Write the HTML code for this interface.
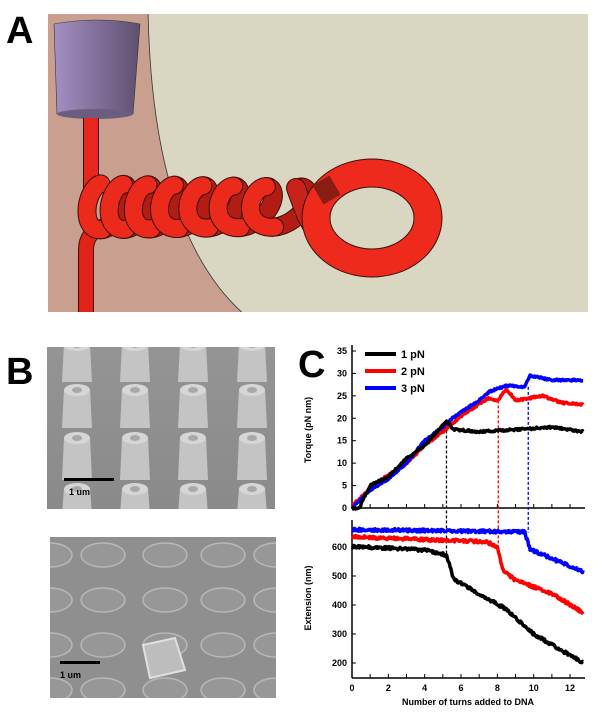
<!DOCTYPE html>
<html><head><meta charset="utf-8"><style>
html,body{margin:0;padding:0;background:#fff;width:600px;height:723px;overflow:hidden}
svg{display:block}
text{font-family:"Liberation Sans",Arial,sans-serif}
</style></head><body>
<svg id="s" width="600" height="723" xmlns="http://www.w3.org/2000/svg">
<defs>
<linearGradient id="cup" x1="0" x2="1"><stop offset="0" stop-color="#a48fc4"/><stop offset="1" stop-color="#5e5070"/></linearGradient>
<linearGradient id="sem" x1="0" y1="0" x2="0" y2="1"><stop offset="0" stop-color="#949494"/><stop offset="1" stop-color="#8a8a8a"/></linearGradient>
<clipPath id="c1"><rect x="47" y="347" width="228" height="162"/></clipPath>
<clipPath id="c2"><rect x="50" y="537" width="226" height="161"/></clipPath>
<clipPath id="cA"><rect x="48" y="14" width="540" height="298"/></clipPath>
</defs>
<g clip-path="url(#cA)">
<rect x="48" y="14" width="540" height="298" fill="#c9a08f"/>
<path d="M148,10 Q152,235 246,316 L592,316 L592,10 Z" fill="#d9d6c2" stroke="#333" stroke-width="0.8"/>
<path d="M54,24 Q97,16 140,24 L133,114 Q95,121 57,114 Z" fill="url(#cup)" stroke="#333" stroke-width="0.6"/>
<ellipse cx="95" cy="114" rx="38" ry="5" fill="#6b5c80"/>
<path d="M91,118 L91,188" stroke="#3a0f08" stroke-width="16" fill="none"/>
<path d="M91,118 L91,188" stroke="#e8261c" stroke-width="14" fill="none"/>
<path d="M86,316 L86,250 Q86,232 104,226" stroke="#3a0f08" stroke-width="16" fill="none"/>
<path d="M86,316 L86,250 Q86,232 104,226" stroke="#e02418" stroke-width="14" fill="none"/>
<g id="coil"></g>
<ellipse cx="372" cy="218" rx="56" ry="45" fill="none" stroke="#3a0f08" stroke-width="29"/>
<ellipse cx="372" cy="218" rx="56" ry="45" fill="none" stroke="#ee2a1c" stroke-width="27"/>
<path d="M318,195 L335,185" stroke="#8a1d12" stroke-width="22"/>
</g>
<text x="6" y="43" font-size="38" font-weight="bold">A</text>

<g clip-path="url(#c1)">
<rect x="47" y="347" width="228" height="162" fill="url(#sem)"/>
<g id="pillars"></g>
</g>
<rect x="64" y="478" width="50" height="3" fill="#000"/>
<text x="69" y="495" font-size="9" font-weight="bold">1 um</text>
<g clip-path="url(#c2)">
<rect x="50" y="537" width="226" height="161" fill="#8f8f8f"/>
<g id="bumps"></g>
<path d="M143,645 L175,638 L185,670 L150,678 Z" fill="#bdbdbd" stroke="#e0e0e0" stroke-width="2"/>
</g>
<rect x="60" y="661" width="40" height="3" fill="#000"/>
<text x="60" y="678" font-size="9" font-weight="bold">1 um</text>
<text x="6" y="384" font-size="38" font-weight="bold">B</text>

<text x="298" y="377" font-size="38" font-weight="bold">C</text>
<g id="plot" font-size="9" font-weight="bold"></g>
</svg>
<script>
var NS="http://www.w3.org/2000/svg";
function el(t,a,p){var e=document.createElementNS(NS,t);for(var k in a)e.setAttribute(k,a[k]);(p||document.getElementById('s')).appendChild(e);return e;}
var cg=document.getElementById('coil');
function turnPts(i0,i1){var pts=[];for(var i=i0;i<=i1;i++){var th=i/700*7*2*Math.PI;var f=i/700;var xc=95+150*f+50*f*f;var R=13+6*f;
pts.push((xc-R*Math.sin(th)+6*Math.cos(th)).toFixed(1)+","+(207-23*Math.cos(th)+3*f*Math.cos(th)).toFixed(1));}return pts;}
function tube(p,w,c){el('polyline',{points:p,fill:"none",stroke:"#3a0f08","stroke-width":w+2,"stroke-linecap":"round"},cg);
el('polyline',{points:p,fill:"none",stroke:c,"stroke-width":w,"stroke-linecap":"round"},cg);}
for(var k=0;k<7;k++){tube(turnPts(k*100+50,k*100+100).join(" "),17,"#b31c13");}
tube("296,188 306,215 320,240",18,"#c8221a");
for(var k=0;k<7;k++){tube(turnPts(k*100,k*100+52).join(" "),17,"#ec2a1c");}
var pg=document.getElementById('pillars');
var xs=[77,135,193,252],rows=[[340,382],[385,428],[433,480],[484,515]];
rows.forEach(function(r){xs.forEach(function(x){
el('path',{d:"M"+(x-13)+","+(r[0]+4)+" L"+(x+13)+","+(r[0]+4)+" L"+(x+15)+","+r[1]+" L"+(x-15)+","+r[1]+" Z",fill:"#c4c4c4"},pg);
el('ellipse',{cx:x,cy:r[0]+5,rx:13,ry:6,fill:"#d6d6d6"},pg);
el('ellipse',{cx:x,cy:r[0]+5,rx:5,ry:3,fill:"#a8a8a8"},pg);});});
var bg=document.getElementById('bumps');
[555,600,645,690].forEach(function(y){[50,103,165,223,276].forEach(function(x){
el('ellipse',{cx:x,cy:y,rx:22,ry:12,fill:"#979797",stroke:"#b8b8b8","stroke-width":1.5},bg);});});
var P=document.getElementById('plot');
function X(t){return 352+18.17*t}function YT(v){return 508-4.486*v}function YE(v){return 547+(600-v)*0.29}
var seed=1;function rnd(){seed=(seed*16807)%2147483647;return seed/2147483647-0.5}
function curve(keys,Y,col,amp){var p=[];for(var t=0;t<=12.75;t+=0.04){var v;for(var k=0;k<keys.length-1;k++){if(t>=keys[k][0]&&t<=keys[k+1][0]){var a=keys[k],b=keys[k+1];v=a[1]+(b[1]-a[1])*(t-a[0])/(b[0]-a[0]);break;}}if(v===undefined)v=keys[keys.length-1][1];p.push(X(t).toFixed(1)+","+(Y(v)+rnd()*amp).toFixed(1));}
el('polyline',{points:p.join(" "),fill:"none",stroke:col,"stroke-width":3.5,"stroke-linejoin":"round"},P);}
el('line',{x1:352,y1:345,x2:352,y2:508,stroke:"#000","stroke-width":1.5},P);
el('line',{x1:352,y1:508,x2:585,y2:508,stroke:"#000","stroke-width":1.5},P);
el('line',{x1:352,y1:520,x2:352,y2:678,stroke:"#000","stroke-width":1.5},P);
el('line',{x1:352,y1:678,x2:585,y2:678,stroke:"#000","stroke-width":1.5},P);
for(var v=0;v<=35;v+=5){el('line',{x1:352,y1:YT(v),x2:356,y2:YT(v),stroke:"#000"},P);var t=el('text',{x:347,y:YT(v)+3,"text-anchor":"end"},P);t.textContent=v;}
for(var v=200;v<=600;v+=100){el('line',{x1:352,y1:YE(v),x2:356,y2:YE(v),stroke:"#000"},P);var t=el('text',{x:347,y:YE(v)+3,"text-anchor":"end"},P);t.textContent=v;}
for(var k=0;k<=12;k++){el('line',{x1:X(k),y1:508,x2:X(k),y2:504,stroke:"#000"},P);el('line',{x1:X(k),y1:678,x2:X(k),y2:674,stroke:"#000"},P);if(k%2==0){var t=el('text',{x:X(k),y:691,"text-anchor":"middle"},P);t.textContent=k;}}
var t=el('text',{x:468,y:705,"text-anchor":"middle"},P);t.textContent="Number of turns added to DNA";
t=el('text',{x:0,y:0,"text-anchor":"middle",transform:"translate(311,430) rotate(-90)"},P);t.textContent="Torque (pN nm)";
t=el('text',{x:0,y:0,"text-anchor":"middle",transform:"translate(311,598) rotate(-90)"},P);t.textContent="Extension (nm)";
[[5.2,19.5,575,"#000"],[8.05,24,600,"#f00"],[9.7,27,650,"#00f"]].forEach(function(d){el('line',{x1:X(d[0]),y1:YT(d[1]),x2:X(d[0]),y2:YE(d[2]),stroke:d[3],"stroke-width":1.3,"stroke-dasharray":"3,2"},P);});
curve([[0,0.5],[1.5,6],[3,10],[4,14],[5,17],[6,20.5],[7.5,24.5],[8,24],[8.5,26.5],[9,24],[10.5,25],[11.5,23.5],[12.75,23]],YT,"#f00",2);
curve([[0,0],[1,4],[2,6.5],[3,10],[4,15],[5,18],[5.5,20],[7,24],[7.6,26],[8.5,27.3],[9.5,27],[9.8,29.5],[11,28.5],[12.75,28.5]],YT,"#00f",1.8);
curve([[0,0],[0.4,0],[1,5],[2,7],[3,11],[4,14],[5.2,19.3],[5.6,17.5],[7,17],[9,17.5],[11,18],[12.75,17]],YT,"#000",2);
curve([[0,660],[9.5,652],[9.8,592],[11,560],[12.75,515]],YE,"#00f",3);
curve([[0,635],[7.4,618],[8,600],[8.3,520],[9,485],[11,440],[12.75,372]],YE,"#f00",3);
curve([[0,602],[4,590],[5.2,572],[5.6,490],[6,475],[7.5,420],[8.5,385],[10,300],[11.5,245],[12.75,200]],YE,"#000",3);
[["#000","1 pN",354],["#f00","2 pN",371],["#00f","3 pN",388]].forEach(function(l){el('line',{x1:365,y1:l[2],x2:396,y2:l[2],stroke:l[0],"stroke-width":4},P);var t=el('text',{x:401,y:l[2]+4,"font-size":"11"},P);t.textContent=l[1];});
</script>
</body></html>
